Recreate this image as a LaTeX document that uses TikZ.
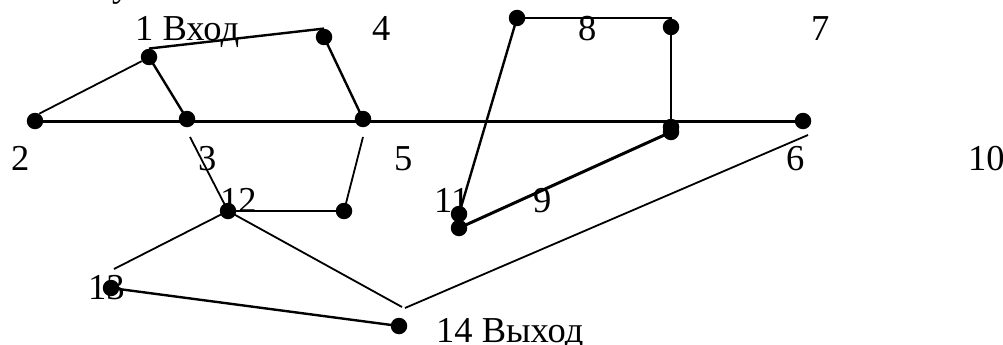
\documentclass[tikz,border=0pt]{standalone}
\usepackage{fontspec}
\setmainfont{Liberation Serif}
\tikzset{
  dot/.style={circle,fill=black,draw=none,inner sep=0pt,minimum size=16.5pt},
  lab/.style={anchor=base west,inner sep=0pt,font=\fontsize{36.5pt}{38pt}\selectfont},
  thinline/.style={line width=1.8pt,black},
  midline/.style={line width=2.4pt,black},
  boldline/.style={line width=3pt,black}
}
\begin{document}
\begin{tikzpicture}[x=1pt,y=-1pt]
\useasboundingbox (0,0) rectangle (1003,345);
\clip (0,0) rectangle (1003,345);
% labels
\node[lab] (ty) at (112,-3) {у};
\node[lab] (t1) at (135,41) {1 Вход};
\node[lab] (t4) at (372,41) {4};
\node[lab] (t8) at (578,41) {8};
\node[lab] (t7) at (811,41) {7};
\node[lab] (t2) at (11,170) {2};
\node[lab] (t3) at (198,170) {3};
\node[lab] (t5) at (394,170) {5};
\node[lab] (t6) at (786,170) {6};
\node[lab] (t10) at (968,170) {10};
\node[lab] (t12) at (220,212) {12};
\node[lab] (t11) at (434,212) {11};
\node[lab] (t9) at (533,212) {9};
\node[lab] (t13) at (88,299) {13};
\node[lab] (t14) at (436,342) {14 Выход};
% dots
\node[dot] (n1) at (149,57) {};
\node[dot] (n2) at (35,121) {};
\node[dot] (n3) at (187,119) {};
\node[dot] (n4) at (324,37) {};
\node[dot] (n5) at (363,119) {};
\node[dot] (n8) at (517,18) {};
\node[dot] (n7) at (671,27) {};
\node[dot] (n6) at (803,121) {};
\node[dot] (n10) at (671,127) {};
\node[dot] (n9) at (671,132) {};
\node[dot] (n11) at (459,214) {};
\node[dot] (n9b) at (459,228) {};
\node[dot] (n12) at (228,211) {};
\node[dot] (na) at (344,211) {};
\node[dot] (n13) at (111,288) {};
\node[dot] (n14) at (399,326) {};
% free ends
\coordinate (f3) at (190,137);
\coordinate (f5) at (363,137);
\coordinate (f13) at (114,269);
\coordinate (f14a) at (402,307);
\coordinate (f14b) at (405,308);
\coordinate (f6) at (808,135);
% connectors
\draw[thinline] (n2.60) -- (n1.210);
\draw[midline] (n1.center) -- (n3.center);
\draw[midline] (n1.north) -- (n4.north);
\draw[midline] (n4.center) -- (n5.center);
\draw[boldline] (n2.center) -- (n6.center);
\draw[midline] (n8.center) -- (n11.center);
\draw[midline] (n8.center) -- (n7.center |- n8.center) -- (n7.center);
\draw[midline] (n7.center) -- (n10.center);
\draw[boldline] (n9.center) -- (n9b.center);
\draw[thinline] (f3) -- (n12.center);
\draw[thinline] (f5) -- (na.center);
\draw[midline] (n12.center) -- (na.center);
\draw[thinline] (f13) -- (n12.center);
\draw[thinline] (n12.center) -- (f14a);
\draw[thinline] (f14b) -- (f6);
\draw[midline] (n13.center) -- (n14.center);
\end{tikzpicture}
\end{document}
